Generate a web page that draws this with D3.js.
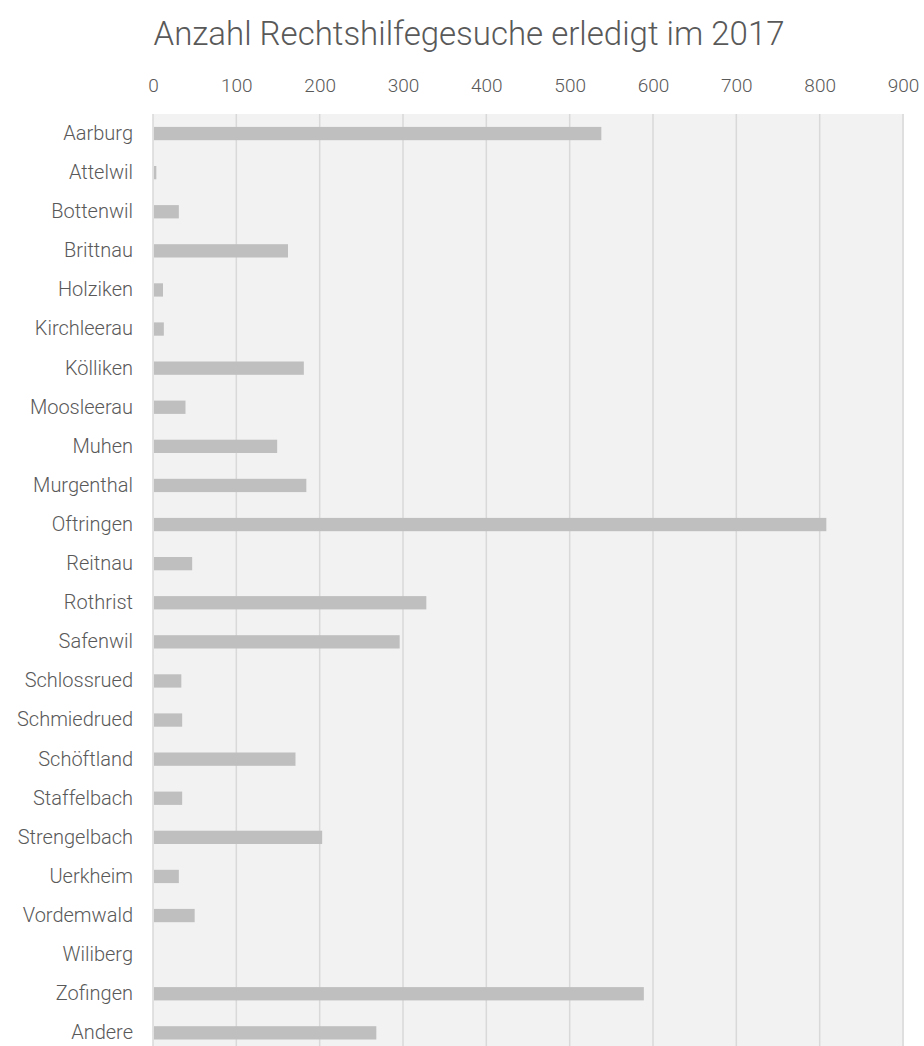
<!DOCTYPE html>
<html>
<head>
<meta charset="utf-8">
<script src="https://cdn.jsdelivr.net/npm/d3@7"></script>
<style>
  body { margin: 0; background: #fff; }
  svg text { font-family: "Roboto", sans-serif; font-weight: 300; fill: #595959; }
</style>
</head>
<body>
<svg id="chart"></svg>
<script>
const gemeinden = ["Aarburg", "Attelwil", "Bottenwil", "Brittnau", "Holziken", "Kirchleerau", "Kölliken",
  "Moosleerau", "Muhen", "Murgenthal", "Oftringen", "Reitnau", "Rothrist", "Safenwil", "Schlossrued",
  "Schmiedrued", "Schöftland", "Staffelbach", "Strengelbach", "Uerkheim", "Vordemwald", "Wiliberg",
  "Zofingen", "Andere"]
const erledigt = [538, 4, 31, 162, 12, 13, 181, 39, 149, 184, 808, 47, 328, 296, 34, 35, 171, 35, 203, 31, 50, 0, 589, 268]
const xTicks = [0, 100, 200, 300, 400, 500, 600, 700, 800, 900]
const titel = "Anzahl Rechtshilfegesuche erledigt im 2017"

const width = 924
const height = 1046
const margin = { top: 114, right: 20, bottom: 0, left: 153 }

const svg = d3.select("#chart").attr("width", width).attr("height", height)

const xScale = d3.scaleLinear().domain([0, 900]).range([margin.left, 903])
const yScale = d3.scaleBand()
  .domain(gemeinden)
  .range([margin.top, margin.top + 24 * 39.1])
  .paddingInner(0.66)
  .paddingOuter(0.33)

// Hintergrund
svg.append("rect")
  .attr("x", margin.left)
  .attr("y", margin.top)
  .attr("width", 904 - margin.left)
  .attr("height", height - margin.top)
  .attr("fill", "#f2f2f2")

// Gitternetz
svg.selectAll(".grid")
  .data(xTicks)
  .enter()
  .append("line")
  .attr("x1", d => xScale(d))
  .attr("x2", d => xScale(d))
  .attr("y1", margin.top)
  .attr("y2", height)
  .attr("stroke", "#d9d9d9")
  .attr("stroke-width", 1.5)

// Balken
svg.selectAll(".bar")
  .data(gemeinden)
  .enter()
  .append("rect")
  .attr("x", xScale(0) + 1)
  .attr("y", d => yScale(d))
  .attr("width", (d, i) => Math.max(0, xScale(erledigt[i]) - xScale(0) - 1))
  .attr("height", yScale.bandwidth())
  .attr("fill", "#bfbfbf")

// x-Achse oben
const xAxis = g => g.attr("transform", "translate(0,85)")
  .call(d3.axisTop(xScale).tickValues(xTicks).tickSize(0).tickPadding(0))
  .call(g => g.select(".domain").remove())
svg.append("g").call(xAxis)
  .selectAll("text")
  .attr("dy", "0.35em")
  .attr("font-size", 19)

// y-Achse
const yAxis = g => g.attr("transform", `translate(${margin.left},0)`)
  .call(d3.axisLeft(yScale).tickSize(0).tickPadding(20))
  .call(g => g.select(".domain").remove())
svg.append("g").call(yAxis)
  .selectAll("text")
  .attr("font-size", 20)

svg.selectAll(".tick text").attr("font-family", null)

// Titel
svg.append("text")
  .attr("x", 469)
  .attr("y", 45)
  .attr("text-anchor", "middle")
  .attr("font-size", 33)
  .text(titel)
</script>
</body>
</html>
